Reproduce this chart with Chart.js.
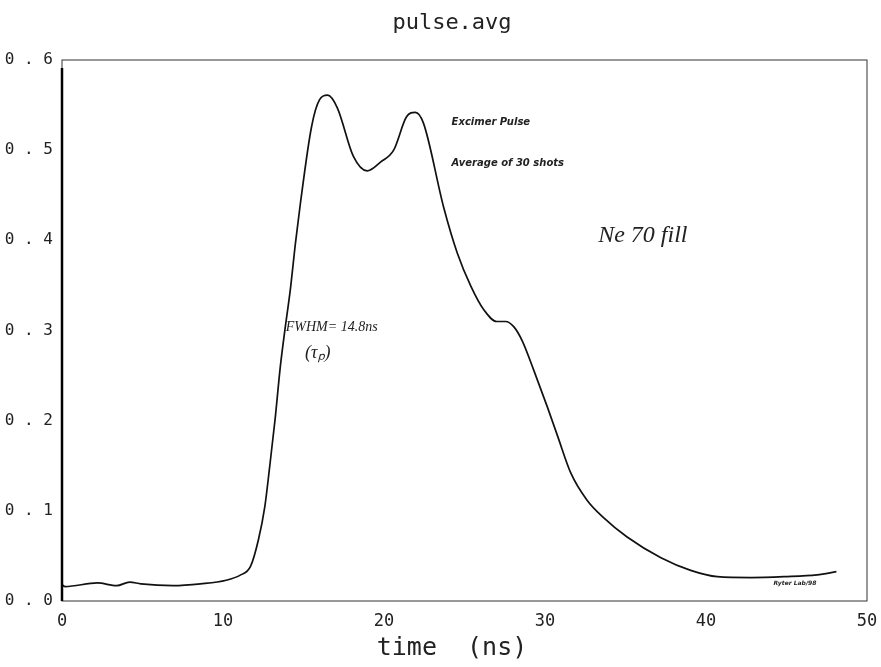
<!DOCTYPE html>
<html>
<head>
<meta charset="utf-8">
<script src="https://cdn.jsdelivr.net/npm/chart.js@4/dist/chart.umd.min.js"></script>
<style>
  html, body { margin: 0; padding: 0; background: #fff; }
  #wrap { width: 881px; height: 667px; }
</style>
</head>
<body>
<div id="wrap"><canvas id="pulseChart" width="881" height="667"></canvas></div>
<script>
// averaged excimer pulse
const timeNs = [0, 0.2, 2.2, 3.4, 4.2, 4.9, 6.9, 8.6, 10.2, 11.1, 11.7, 12.2, 12.6, 12.9,
  13.25, 13.56, 13.87, 14.18, 14.5, 14.8, 15.5, 16.0, 16.5, 17.1, 18.1, 18.95, 19.8, 20.6,
  21.4, 21.95, 22.45, 23.7, 24.55, 25.4, 26.2, 27.0, 27.55, 28.07, 28.6, 29.3, 30.15, 30.8,
  31.6, 32.6, 33.6, 35.1, 37.2, 39.05, 40.7, 42.8, 44.85, 46.9, 48.1];
const signal = [0.018, 0.016, 0.020, 0.017, 0.021, 0.019, 0.017, 0.019, 0.023, 0.029, 0.038,
  0.068, 0.105, 0.149, 0.204, 0.26, 0.304, 0.345, 0.397, 0.44, 0.526, 0.556, 0.561, 0.547,
  0.493, 0.477, 0.487, 0.50, 0.537, 0.542, 0.53, 0.437, 0.386, 0.349, 0.323, 0.31, 0.31,
  0.304, 0.288, 0.256, 0.215, 0.182, 0.142, 0.112, 0.093, 0.071, 0.048, 0.034, 0.027, 0.026,
  0.027, 0.029, 0.0325];
const xTicks = [0, 10, 20, 30, 40, 50];
const yTicks = [0, 0.1, 0.2, 0.3, 0.4, 0.5, 0.6];

const mono = "'DejaVu Sans Mono', monospace";

// title, frame and the notes on the plot
const decor = {
  id: "decor",
  afterDraw(chart) {
    const c = chart.ctx, a = chart.chartArea;
    const xs = chart.scales.x, ys = chart.scales.y;
    c.save();
    c.strokeStyle = "#333";
    c.lineWidth = 1;
    c.strokeRect(a.left, a.top, a.right - a.left, a.bottom - a.top);
    c.lineWidth = 2.5;
    c.strokeStyle = "#000";
    c.beginPath(); c.moveTo(a.left, a.top + 8); c.lineTo(a.left, a.bottom); c.stroke();

    c.fillStyle = "#222";
    c.textAlign = "center";
    c.textBaseline = "middle";
    c.font = "22px " + mono;
    c.fillText("pulse.avg", 452, 23);
    c.font = "25px " + mono;
    c.fillText("time  (ns)", 452, 648);

    c.textAlign = "left";
    c.font = "italic bold 10px 'DejaVu Sans'";
    c.fillText("Excimer Pulse", xs.getPixelForValue(24.2), ys.getPixelForValue(0.531));
    c.fillText("Average of 30 shots", xs.getPixelForValue(24.2), ys.getPixelForValue(0.485));
    c.font = "italic bold 6px 'DejaVu Sans'";
    c.fillText("Ryter Lab/98", xs.getPixelForValue(44.2), ys.getPixelForValue(0.019));

    c.font = "italic 24px 'Liberation Serif'";
    c.fillText("Ne 70 fill", xs.getPixelForValue(33.3), ys.getPixelForValue(0.405));
    c.font = "italic 14px 'Liberation Serif'";
    c.fillText("FWHM= 14.8ns", xs.getPixelForValue(13.9), ys.getPixelForValue(0.303));
    c.font = "italic 18px 'Liberation Serif'";
    c.fillText("(τ\u209A)", xs.getPixelForValue(15.1), ys.getPixelForValue(0.275));
    c.restore();
  }
};

new Chart(document.getElementById("pulseChart"), {
  type: "line",
  data: {
    datasets: [{
      label: "pulse.avg",
      data: timeNs.map((t, i) => ({ x: t, y: signal[i] })),
      borderColor: "#111",
      borderWidth: 1.7,
      pointRadius: 0,
      cubicInterpolationMode: "monotone",
      fill: false
    }]
  },
  options: {
    responsive: false,
    animation: false,
    layout: { padding: { top: 60, right: 0, left: 0, bottom: 0 } },
    plugins: { legend: { display: false }, title: { display: false }, tooltip: { enabled: false } },
    scales: {
      x: {
        type: "linear", min: 0, max: 50,
        afterBuildTicks: s => { s.ticks = xTicks.map(v => ({ value: v })); },
        afterFit: s => { s.height = 66; s.paddingRight = 14; },
        grid: { display: false, drawTicks: false },
        border: { display: false },
        ticks: { color: "#222", padding: 10, font: { family: mono, size: 17 } }
      },
      y: {
        min: 0, max: 0.6,
        afterBuildTicks: s => { s.ticks = yTicks.map(v => ({ value: v })); },
        afterFit: s => { s.width = 62; },
        grid: { display: false, drawTicks: false },
        border: { display: false },
        ticks: {
          color: "#222", padding: 9, font: { family: mono, size: 16 },
          callback: v => Number(v).toFixed(1).split("").join(" ")
        }
      }
    }
  },
  plugins: [decor]
});
</script>
</body>
</html>
